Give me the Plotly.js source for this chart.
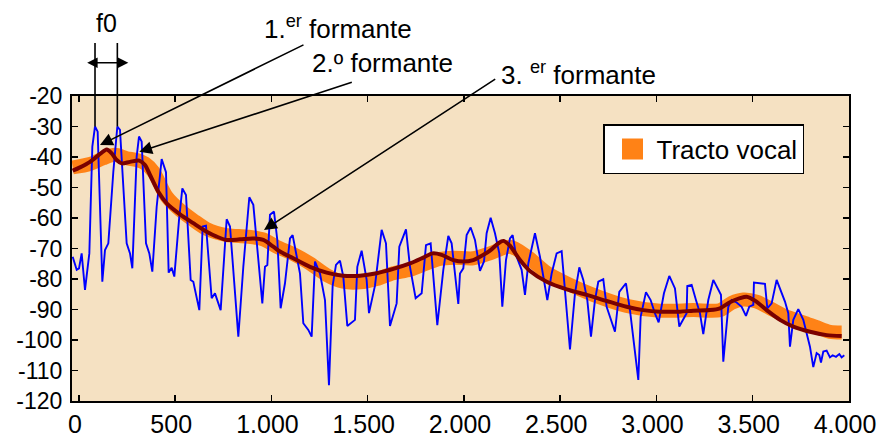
<!DOCTYPE html>
<html>
<head>
<meta charset="utf-8">
<script src="https://cdn.plot.ly/plotly-3.0.1.min.js"></script>
<style>html,body{margin:0;padding:0;background:#fff;}#chart{width:880px;height:437px;}</style>
</head>
<body>
<div id="chart"></div>
<script>
// Spectrum (harmonics) - blue
const freqSpectrum = [-32.5, -11.7, 0.4, 14.2, 31.5, 54, 69.6, 83.5, 97.3, 121.5,
 135.4, 152.7, 178.5, 199.5, 213.3, 248, 265.3, 277.4, 299.9, 312,
 325.9, 348.4, 365.7, 381.2, 403.8, 429.8, 452.2, 466.1, 481.7, 495.5,
 519.8, 537.1, 556.1, 580.4, 594.2, 625.4, 642.7, 660, 689.4, 706.7,
 736.2, 767.4, 784.7, 828, 853.9, 885, 905.9, 952.6, 966.4, 978.6,
 992.4, 1013.2, 1030.5, 1047.8, 1070.3, 1096.3, 1110.1, 1122.3, 1148.2, 1165.5,
 1191.5, 1208.8, 1226.1, 1252.1, 1278.1, 1298.8, 1317.9, 1335.2, 1356, 1373.3,
 1394.1, 1433.9, 1446, 1468.5, 1494.5, 1506.6, 1537.8, 1572.4, 1594.9, 1615.7,
 1650.3, 1664.2, 1698.8, 1719.6, 1749, 1780.2, 1802.7, 1826.9, 1840.8, 1861.5,
 1892.7, 1918.7, 1936, 1970.6, 1979.3, 1996.6, 2013.9, 2034.7, 2057.2, 2083.2,
 2103.9, 2117.8, 2138.6, 2161.1, 2183.6, 2199.1, 2218.2, 2239, 2252.9, 2270.2,
 2299.6, 2316.9, 2334.2, 2368.8, 2394.8, 2432.9, 2455.4, 2481.4, 2507.4, 2529.8,
 2550.6, 2576.6, 2599.1, 2619.9, 2640.7, 2659.7, 2680.5, 2697.8, 2723.7, 2741.1,
 2784.3, 2806.8, 2841.5, 2862.3, 2879.6, 2905.6, 2917.7, 2945.4, 2969.6, 2992.1,
 3011.2, 3038.8, 3066.5, 3096, 3118.5, 3139.3, 3156.6, 3160, 3182.6, 3205,
 3225.8, 3243.1, 3269.1, 3295.1, 3312.4, 3334.9, 3347, 3373, 3390.3, 3416.3,
 3442.3, 3464.8, 3482.1, 3502.9, 3506.3, 3563.5, 3575.6, 3598.1, 3624.1, 3650.1,
 3667.4, 3684.7, 3693.4, 3710.7, 3736.6, 3762.6, 3779.9, 3797.2, 3814.5, 3831.9,
 3845.7, 3854.4, 3866.5, 3883.8, 3901.1, 3915, 3932.3, 3949.6, 3961.7, 3975.6];
const dbSpectrum = [-72.7, -77.0, -76.5, -71.6, -83.6, -71.6, -36.6, -30.0, -31.7, -80.9,
 -70.5, -68.3, -45.0, -30.0, -31.1, -68.3, -71.6, -76.5, -39.9, -33.3,
 -34.9, -68.3, -71.6, -77.6, -56.3, -40.7, -45.0, -77.9, -76.3, -79.2,
 -60.7, -50.3, -52.5, -80.3, -80.9, -90.2, -62.8, -62.5, -86.3, -84.7,
 -90.2, -60.4, -62.8, -98.9, -76.0, -53.2, -55.7, -88.0, -76.0, -75.4,
 -58.9, -57.9, -67.2, -89.6, -81.4, -66.7, -65.6, -69.4, -78.2, -94.5,
 -96.7, -98.9, -74.3, -78.2, -86.9, -114.8, -82.2, -75.4, -74.0, -79.2,
 -95.4, -93.4, -76.0, -70.7, -80.3, -91.2, -82.2, -63.9, -68.3, -95.4,
 -88.0, -69.4, -63.7, -76.0, -86.3, -84.7, -68.9, -68.3, -80.3, -95.1,
 -77.0, -65.9, -68.3, -88.2, -78.2, -76.5, -65.6, -63.1, -67.2, -77.3,
 -74.3, -65.0, -59.9, -65.0, -71.6, -89.1, -73.8, -66.7, -65.6, -72.1,
 -77.0, -85.2, -74.9, -65.0, -72.7, -86.9, -78.2, -71.6, -70.9, -89.1,
 -103.1, -84.7, -76.2, -80.3, -86.9, -98.9, -86.9, -80.9, -80.1, -89.1,
 -97.3, -84.2, -81.4, -90.2, -100.0, -113.1, -92.4, -84.3, -86.9, -91.3,
 -94.2, -84.7, -79.0, -83.1, -95.6, -93.4, -91.2, -82.3, -81.9, -86.9,
 -91.2, -98.1, -86.9, -80.3, -82.5, -85.2, -107.1, -89.1, -86.9, -87.7,
 -89.1, -92.1, -89.1, -88.5, -81.2, -81.6, -89.6, -88.0, -80.3, -84.7,
 -87.4, -91.2, -102.2, -93.4, -89.9, -93.4, -97.8, -102.2, -108.9, -104.3,
 -104.9, -107.4, -103.8, -103.5, -105.7, -105.0, -105.5, -104.6, -105.7, -105.0];

// Vocal tract (orange band)
const freqTract = [-32.4, 57.5, 126.6, 187.3, 248.1, 300.1, 343.2, 386.3, 455.9, 525,
 594, 663.6, 767.5, 871.4, 957.6, 1027.2, 1113.4, 1200.2, 1286.9, 1373.1,
 1459.8, 1546.6, 1632.8, 1719.6, 1806.3, 1875.4, 1944.5, 2048.4, 2135.1, 2239,
 2325.7, 2429.6, 2533.5, 2671.6, 2845.1, 3018.1, 3191.1, 3329.7, 3390.5, 3450.8,
 3520.4, 3589.5, 3676.2, 3762.4, 3832, 3901.1, 3961.9];
const dbTract = [-43.4, -42.3, -40.4, -39.3, -40.4, -41.0, -42.1, -44.8, -53.0, -57.4,
 -60.7, -63.6, -65.6, -66.1, -67.0, -69.4, -71.8, -74.9, -78.7, -80.9,
 -81.1, -80.0, -78.1, -77.0, -74.9, -73.4, -73.0, -73.2, -71.6, -69.4,
 -72.5, -77.9, -81.4, -85.2, -88.8, -90.4, -90.2, -90.2, -87.8, -86.7,
 -87.4, -89.6, -92.4, -94.2, -95.8, -97.3, -97.5];

// Envelope (dark red)
const freqEnvelope = [-32.4, 5.6, 57.5, 109.4, 144.2, 170.2, 196.2, 222.1, 265.2, 313.6,
 343.2, 369.2, 412.3, 455.9, 525, 594, 663.6, 715.6, 767.5, 836.6,
 905.7, 957.6, 1009.6, 1044.4, 1113.4, 1200.2, 1286.9, 1373.1, 1459.8, 1546.6,
 1632.8, 1719.6, 1788.6, 1837.5, 1884.2, 1944.5, 1996.4, 2048.4, 2083.2, 2135.1,
 2178.2, 2204.2, 2239, 2290.9, 2342.9, 2429.6, 2533.5, 2637.4, 2741.3, 2845.1,
 2931.4, 3018.1, 3122, 3191.1, 3277.7, 3329.7, 3381.6, 3433.6, 3468.4, 3511.5,
 3572.3, 3641.5, 3710.6, 3797.4, 3884.1, 3961.9];
const dbEnvelope = [-44.5, -43.4, -41.6, -39.0, -37.5, -38.8, -41.0, -42.1, -41.6, -41.2,
 -42.6, -45.9, -51.4, -55.2, -58.8, -61.7, -64.5, -66.1, -67.2, -67.0,
 -66.7, -67.2, -69.4, -71.0, -73.2, -76.0, -77.9, -78.9, -78.9, -78.1,
 -76.7, -74.9, -73.0, -71.6, -72.1, -73.8, -74.3, -73.8, -72.7, -70.7,
 -68.3, -67.5, -69.1, -73.8, -77.4, -80.9, -83.4, -85.2, -87.2, -89.1,
 -90.2, -90.7, -90.7, -90.4, -90.2, -89.6, -87.6, -86.3, -85.8, -87.1,
 -90.2, -93.4, -95.6, -97.3, -98.4, -98.7];

const xTickVals = [0, 500, 1000, 1500, 2000, 2500, 3000, 3500, 4000];
const xTickText = ["0", "500", "1.000", "1.500", "2.000", "2.500", "3.000", "3.500", "4.000"];
const yTickVals = [-120, -110, -100, -90, -80, -70, -60, -50, -40, -30, -20];
const yTickText = ["-120", "-110", "-100", "-90", "-80", "-70", "-60", "-50", "-40", "-30", "-20"];

// f0 harmonic peaks and formant pointers
const f0Peaks = [[83.5, -30.0], [199.5, -30.0]];
const formantTips = [[109.4, -36.1], [313.6, -38.3], [961.3, -63.9]];

const ORANGE = '#FF8216';
const FONT = 'Liberation Sans, Arial, Helvetica, sans-serif';

const traces = [
  {x: freqTract, y: dbTract, type: 'scatter', mode: 'lines',
   line: {color: ORANGE, width: 14, shape: 'spline', smoothing: 0.8}, showlegend: false, hoverinfo: 'skip'},
  {x: freqSpectrum, y: dbSpectrum, type: 'scatter', mode: 'lines',
   line: {color: '#0000FF', width: 1.9}, showlegend: false, hoverinfo: 'skip'},
  {x: freqEnvelope, y: dbEnvelope, type: 'scatter', mode: 'lines',
   line: {color: '#7A0000', width: 4, shape: 'spline', smoothing: 0.8}, showlegend: false, hoverinfo: 'skip'},
  {x: [null], y: [null], type: 'scatter', mode: 'markers', name: 'Tracto vocal',
   marker: {symbol: 'square', size: 16, color: ORANGE, line: {color: ORANGE, width: 5}}, showlegend: true}
];

const W = 777, H = 305, L = 72, T = 96;
function px(xp) { return (xp - L) / W; }
function py(yp) { return (T + H - yp) / H; }

const annotations = [];
f0Peaks.forEach(p => annotations.push({
  x: p[0], y: p[1], xref: 'x', yref: 'y', text: '', showarrow: true,
  arrowhead: 0, arrowwidth: 1.6, arrowcolor: '#000', ax: 0, ay: -85
}));
annotations.push({
  x: px(128.3), y: py(62.7), xref: 'paper', yref: 'paper', text: '', showarrow: true,
  arrowside: 'end+start', arrowhead: 2, startarrowhead: 2, arrowsize: 1.3, startarrowsize: 1.3,
  arrowwidth: 1.6, arrowcolor: '#000', axref: 'pixel', ayref: 'pixel', ax: -42.6, ay: 0
});
const tails = [[205, -101], [214, -70], [232.7, -151.7]];
formantTips.forEach((p, i) => annotations.push({
  x: p[0], y: p[1], xref: 'x', yref: 'y', text: '', showarrow: true,
  arrowhead: 2, arrowsize: 1.6, arrowwidth: 1.6, arrowcolor: '#000',
  ax: tails[i][0], ay: tails[i][1]
}));
const labelFont = {family: FONT, size: 26, color: '#000'};
annotations.push({x: px(106.7), y: py(22.5), xref: 'paper', yref: 'paper', text: 'f0', showarrow: false,
  xanchor: 'center', yanchor: 'middle', font: {family: FONT, size: 25, color: '#000'}});
annotations.push({x: px(262), y: py(27.5), xref: 'paper', yref: 'paper', text: '1.<sup>er</sup> formante', showarrow: false,
  xanchor: 'left', yanchor: 'middle', font: labelFont});
annotations.push({x: px(309.7), y: py(63.3), xref: 'paper', yref: 'paper', text: '2.º formante', showarrow: false,
  xanchor: 'left', yanchor: 'middle', font: labelFont});
annotations.push({x: px(498.7), y: py(73), xref: 'paper', yref: 'paper', text: '3. <sup>er</sup> formante', showarrow: false,
  xanchor: 'left', yanchor: 'middle', font: labelFont});

const axisCommon = {
  showline: true, linecolor: '#000', linewidth: 2, mirror: 'ticks',
  ticks: 'inside', ticklen: 6, tickwidth: 1.5, tickcolor: '#000',
  showgrid: false, zeroline: false
};

const layout = {
  width: 880, height: 437,
  margin: {l: 72, r: 31, t: 96, b: 36, pad: 0},
  paper_bgcolor: '#FFFFFF', plot_bgcolor: '#F5E1C2',
  font: {family: FONT, color: '#000'},
  xaxis: Object.assign({}, axisCommon, {
    range: [-36, 4000], tickmode: 'array', tickvals: xTickVals, ticktext: xTickText,
    tickfont: {family: FONT, size: 25, color: '#000'}, ticklabelshift: -4
  }),
  yaxis: Object.assign({}, axisCommon, {
    range: [-120, -20], tickmode: 'array', tickvals: yTickVals, ticktext: yTickText,
    tickfont: {family: FONT, size: 23, color: '#000'}, ticklabelstandoff: 3
  }),
  showlegend: true,
  legend: {
    x: px(603), y: py(124), xanchor: 'left', yanchor: 'top',
    bgcolor: '#FFFFFF', bordercolor: '#000', borderwidth: 1.5,
    itemwidth: 38, indentation: 4,
    font: {family: FONT, size: 26, color: '#000'}
  },
  annotations: annotations
};

Plotly.newPlot('chart', traces, layout, {staticPlot: true, displayModeBar: false});
</script>
</body>
</html>
